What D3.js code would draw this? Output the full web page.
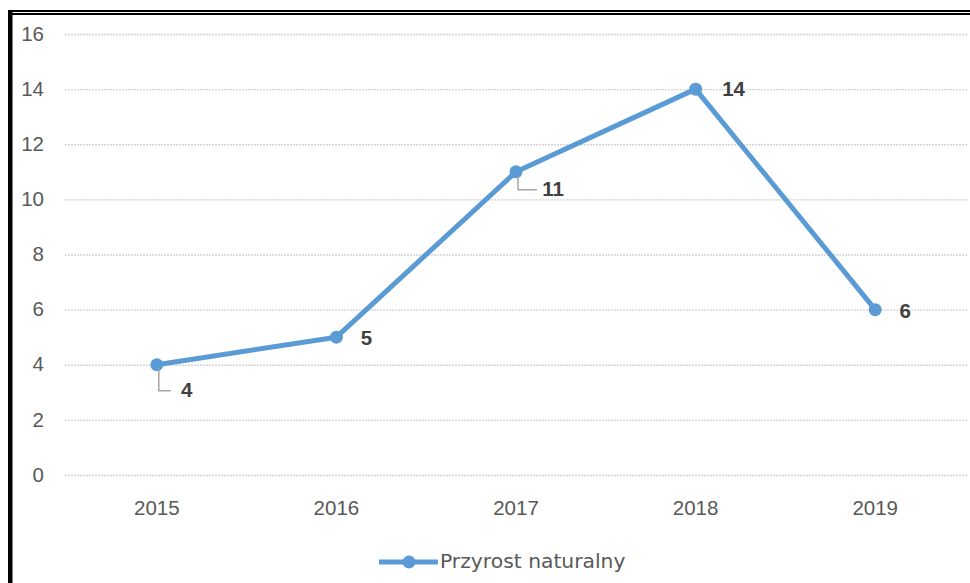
<!DOCTYPE html>
<html><head><meta charset="utf-8">
<script src="https://cdn.jsdelivr.net/npm/d3@7"></script>
<style>
html,body{margin:0;padding:0;background:#fff;}
svg{display:block;}
</style></head>
<body>
<svg id="c" width="970" height="583"></svg>
<script>
const years = ["2015","2016","2017","2018","2019"];
const values = [4, 5, 11, 14, 6];
const yTicks = [0, 2, 4, 6, 8, 10, 12, 14, 16];
const seriesName = "Przyrost naturalny";

const svg = d3.select("#c");
const W = 970, H = 583;
svg.append("rect").attr("width", W).attr("height", H).attr("fill", "#fff");

// frame
svg.append("rect").attr("x", 8).attr("y", 10).attr("width", 4.5).attr("height", H - 10).attr("fill", "#000");
svg.append("rect").attr("x", 8).attr("y", 10).attr("width", W - 8).attr("height", 2).attr("fill", "#000");
svg.append("rect").attr("x", 8).attr("y", 13).attr("width", W - 8).attr("height", 2).attr("fill", "#000");

const x = d3.scaleBand().domain(years).range([67, 965]);
const y = d3.scaleLinear().domain([0, 16]).range([475, 34]);

// gridlines
const grid = svg.append("g");
grid.selectAll("line").data(yTicks).join("line")
  .attr("x1", 65).attr("x2", 967)
  .attr("y1", d => y(d) + 0.5).attr("y2", d => y(d) + 0.5)
  .attr("stroke", "#d4d4d4").attr("stroke-width", 1.3)
  .attr("stroke-dasharray", "2,1");

// y axis labels
const yAxis = d3.axisLeft(y).tickValues(yTicks).tickSize(0).tickPadding(0);
const ya = svg.append("g").attr("transform", "translate(44,0)").call(yAxis);
ya.select(".domain").remove();
ya.selectAll("text").attr("font-family", "Liberation Sans, Arial, sans-serif")
  .attr("font-size", 20.5).attr("fill", "#595959").attr("dy", "0.3em");

// x axis labels
const xAxis = d3.axisBottom(x).tickSize(0).tickPadding(0);
const xa = svg.append("g").attr("transform", "translate(0,500)").call(xAxis);
xa.select(".domain").remove();
xa.selectAll("text").attr("font-family", "Liberation Sans, Arial, sans-serif")
  .attr("font-size", 20.5).attr("fill", "#595959").attr("dy", "0.72em");

const cx = d => x(d) + x.bandwidth() / 2;
const pts = years.map((yr, i) => ({yr, v: values[i]}));

// line
const line = d3.line().x(d => cx(d.yr)).y(d => y(d.v));
svg.append("path").datum(pts).attr("d", line)
  .attr("fill", "none").attr("stroke", "#5b9bd5").attr("stroke-width", 5)
  .attr("stroke-linejoin", "round");

svg.append("g").selectAll("circle").data(pts).join("circle")
  .attr("cx", d => cx(d.yr)).attr("cy", d => y(d.v)).attr("r", 6.5)
  .attr("fill", "#5b9bd5");

// data labels (offsets relative to the point)
const labelOffsets = [[30, 25], [30, 1], [37, 17], [38, 0], [30, 1]];
const leaders = [true, false, true, false, false];
const lab = svg.append("g");
pts.forEach((d, i) => {
  const px = cx(d.yr), py = y(d.v);
  const [dx, dy] = labelOffsets[i];
  if (leaders[i]) {
    lab.append("path")
      .attr("d", `M${px + 2},${py + 5} V${py + dy + 1} H${px + dx - 16}`)
      .attr("fill", "none").attr("stroke", "#a6a6a6").attr("stroke-width", 1.5);
  }
  lab.append("text").attr("x", px + dx).attr("y", py + dy)
    .attr("text-anchor", "middle").attr("dy", "0.35em")
    .attr("font-family", "Liberation Sans, Arial, sans-serif").attr("font-weight", "bold")
    .attr("font-size", 20.5).attr("fill", "#404040").text(d.v);
});

// legend
const lg = svg.append("g");
lg.append("line").attr("x1", 379).attr("x2", 438).attr("y1", 562).attr("y2", 562)
  .attr("stroke", "#5b9bd5").attr("stroke-width", 5);
lg.append("circle").attr("cx", 409).attr("cy", 562).attr("r", 6.5).attr("fill", "#5b9bd5");
lg.append("text").attr("x", 440).attr("y", 561).attr("dy", "0.35em")
  .attr("font-family", "DejaVu Sans, Verdana, sans-serif").attr("font-size", 20.3)
  .attr("fill", "#595959").text(seriesName);
</script>
</body></html>
